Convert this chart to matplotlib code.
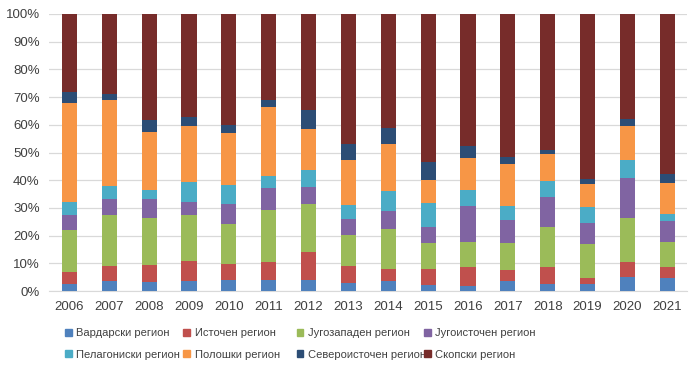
import numpy as np
import matplotlib.pyplot as plt
from matplotlib.patches import Patch

years = ['2006', '2007', '2008', '2009', '2010', '2011', '2012', '2013',
         '2014', '2015', '2016', '2017', '2018', '2019', '2020', '2021']

regions = ['Вардарски регион', 'Источен регион', 'Југозападен регион', 'Југоисточен регион',
           'Пелагониски регион', 'Полошки регион', 'Североисточен регион', 'Скопски регион']

# shares in percent
vardarski    = [2.4, 3.5, 3.2, 3.7, 4.1, 4.1, 3.8, 2.9, 3.5, 2.0, 1.8, 3.7, 2.6, 2.6, 5.0, 4.8]
istochen     = [4.3, 5.6, 6.2, 7.2, 5.6, 6.2, 10.3, 6.2, 4.6, 6.1, 7.0, 4.0, 5.9, 2.2, 5.3, 3.7]
jugozapaden  = [15.3, 18.5, 17.0, 16.6, 14.5, 19.1, 17.4, 11.1, 14.3, 9.3, 8.9, 9.7, 14.5, 12.3, 15.9, 9.2]
jugoistochen = [5.3, 5.6, 6.8, 4.8, 7.3, 7.9, 5.9, 5.9, 6.4, 5.8, 13.1, 8.2, 11.1, 7.3, 14.7, 7.5]
pelagoniski  = [5.0, 4.8, 3.2, 7.1, 6.7, 4.2, 6.4, 4.9, 7.3, 8.5, 5.7, 5.0, 5.6, 5.9, 6.5, 2.6]
poloski      = [35.4, 30.8, 20.9, 20.0, 18.9, 25.1, 14.7, 16.4, 17.0, 8.3, 11.5, 15.3, 9.7, 8.5, 12.2, 11.3]
severoist    = [4.1, 2.4, 4.4, 3.5, 2.8, 2.2, 6.8, 5.6, 5.8, 6.5, 4.4, 2.5, 1.6, 1.5, 2.4, 3.0]
skopski      = [28.2, 28.8, 38.3, 37.1, 40.1, 31.2, 34.7, 47.0, 41.1, 53.5, 47.6, 51.6, 49.0, 59.7, 38.0, 57.9]

colors = ['#4F81BD', '#C0504D', '#9BBB59', '#8064A2',
          '#4BACC6', '#F79646', '#2C4D75', '#772C2A']

series = [vardarski, istochen, jugozapaden, jugoistochen,
          pelagoniski, poloski, severoist, skopski]

plt.rcParams['font.family'] = ['Liberation Sans', 'DejaVu Sans']

fig = plt.figure(figsize=(7, 3.72), dpi=100)
ax = fig.add_axes([0.0707, 0.2177, 0.911, 0.7447])

x = np.arange(len(years))
data = np.array(series)
data = data / data.sum(axis=0)  # normalise to 100%
bottom = np.zeros(len(years))
for vals, c in zip(data, colors):
    ax.bar(x, vals, 0.38, bottom=bottom, color=c, zorder=3)
    bottom += vals

ax.set_xlim(-0.5, len(years) - 0.5)
ax.set_ylim(0, 1)
ax.set_yticks(np.arange(0, 1.01, 0.1))
ax.set_yticklabels([f'{int(round(v * 100))}%' for v in np.arange(0, 1.01, 0.1)], fontsize=9.5)
ax.set_xticks(x)
ax.set_xticklabels(years, fontsize=9.5)
ax.grid(axis='y', color='#D9D9D9', linewidth=0.9, zorder=0)
for s in ['top', 'right', 'left']:
    ax.spines[s].set_visible(False)
ax.spines['bottom'].set_color('#D9D9D9')
ax.tick_params(length=0, pad=7, colors='#404040')

# legend: 4 columns x 2 rows, one legend per column
col_x = [0.093, 0.262, 0.424, 0.606]
for i in range(4):
    handles = [Patch(color=colors[i]), Patch(color=colors[i + 4])]
    labels = [regions[i], regions[i + 4]]
    fig.legend(handles, labels, loc='upper left', bbox_to_anchor=(col_x[i], 0.118),
               frameon=False, fontsize=8.0, handlelength=0.6, handleheight=0.6,
               handletextpad=0.4, labelspacing=1.05, borderpad=0, borderaxespad=0,
               labelcolor='#404040')

fig.savefig('out.png', dpi=100)
